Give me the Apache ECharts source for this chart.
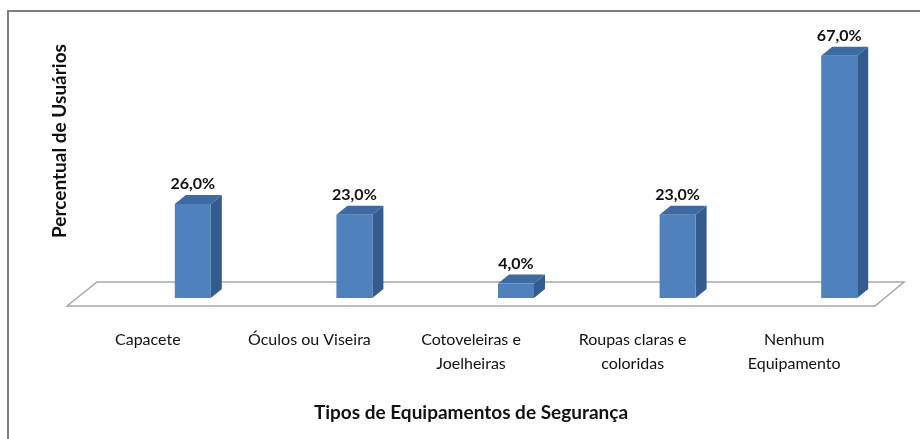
<!DOCTYPE html>
<html>
<head>
<meta charset="utf-8">
<script src="https://cdn.jsdelivr.net/npm/echarts@6/dist/echarts.min.js"></script>
<style>
  html, body { margin: 0; padding: 0; background: #fff; }
  #chart { width: 920px; height: 439px; }
</style>
</head>
<body>
<div id="chart"></div>
<script>
// categorias e valores
var categorias = ['Capacete', 'Óculos ou Viseira', 'Cotoveleiras e\nJoelheiras', 'Roupas claras e\ncoloridas', 'Nenhum\nEquipamento'];
var percentuais = [26.0, 23.0, 4.0, 23.0, 67.0];
var tituloX = 'Tipos de Equipamentos de Segurança';
var tituloY = 'Percentual de Usuários';

var fonte = 'Lato, "Open Sans", sans-serif';
var corFrente = '#4F81BD', corLado = '#335B8D', corTopo = '#3E6AA2';
var largura = 36, profX = 11, profY = 9;

function fmt(v) {
  return v.toFixed(1).replace('.', ',') + '%';
}

// barra 3D: frente, lado, topo e rótulo
function desenhaBarra(params, api) {
  var base = api.coord([api.value(0), 0]);
  var topo = api.coord([api.value(0), api.value(1)]);
  var x0 = base[0] - largura / 2, x1 = base[0] + largura / 2;
  var yb = base[1], yt = topo[1];
  return {
    type: 'group',
    children: [
      { type: 'polygon', shape: { points: [[x1, yt], [x1 + profX, yt - profY], [x1 + profX, yb - profY], [x1, yb]] }, style: { fill: corLado } },
      { type: 'polygon', shape: { points: [[x0, yt], [x0 + profX, yt - profY], [x1 + profX, yt - profY], [x1, yt]] }, style: { fill: corTopo } },
      { type: 'rect', shape: { x: x0, y: yt, width: largura, height: yb - yt }, style: { fill: corFrente } },
      { type: 'text', style: { text: fmt(api.value(1)), x: base[0], y: yt - profY - 3, align: 'center', verticalAlign: 'bottom', font: 'bold 16px ' + fonte, fill: '#111' } }
    ]
  };
}

// piso em perspectiva, a partir da área do grid
function desenhaPiso(params, api) {
  var cs = params.coordSys;
  var yb = cs.y + cs.height;
  var l = cs.x, r = cs.x + cs.width;
  return {
    type: 'polygon',
    shape: { points: [[l - 45, yb + 8], [l - 15, yb - 16], [r - 16, yb - 16], [r - 45, yb + 8]] },
    style: { fill: '#fff', stroke: '#A6A6A6', lineWidth: 1.5 }
  };
}

var myChart = echarts.init(document.getElementById('chart'));
myChart.setOption({
  animation: false,
  backgroundColor: '#fff',
  grid: [
    { left: 112, right: 0, top: 45, bottom: 141 },
    { left: 67, right: 45, top: 45, bottom: 141 }
  ],
  xAxis: [
    { type: 'category', gridIndex: 0, data: categorias, show: false },
    {
      type: 'category', gridIndex: 1, data: categorias,
      axisLine: { show: false }, axisTick: { show: false },
      axisLabel: { margin: 30, fontFamily: fonte, fontSize: 16, color: '#111', lineHeight: 24, interval: 0 },
      name: tituloX, nameLocation: 'middle', nameGap: 105,
      nameTextStyle: { fontFamily: fonte, fontSize: 19, fontWeight: 'bold', color: '#111' }
    }
  ],
  yAxis: [
    { type: 'value', gridIndex: 0, min: 0, max: 70, show: false },
    { type: 'value', gridIndex: 1, min: 0, max: 70, show: false }
  ],
  graphic: [
    { type: 'rect', shape: { x: 8, y: 11, width: 1000, height: 1000 }, style: { fill: 'none', stroke: '#808080', lineWidth: 2 }, z: 100 },
    { type: 'text', x: 60, y: 141, rotation: Math.PI / 2, style: { text: tituloY, align: 'center', verticalAlign: 'middle', font: 'bold 19px ' + fonte, fill: '#111' } }
  ],
  series: [
    { type: 'custom', xAxisIndex: 0, yAxisIndex: 0, renderItem: desenhaPiso, data: [[0, 0]], z: 1, silent: true },
    {
      type: 'custom', xAxisIndex: 0, yAxisIndex: 0, z: 2,
      renderItem: desenhaBarra,
      data: percentuais.map(function (v, i) { return [i, v]; })
    }
  ]
});
</script>
</body>
</html>
